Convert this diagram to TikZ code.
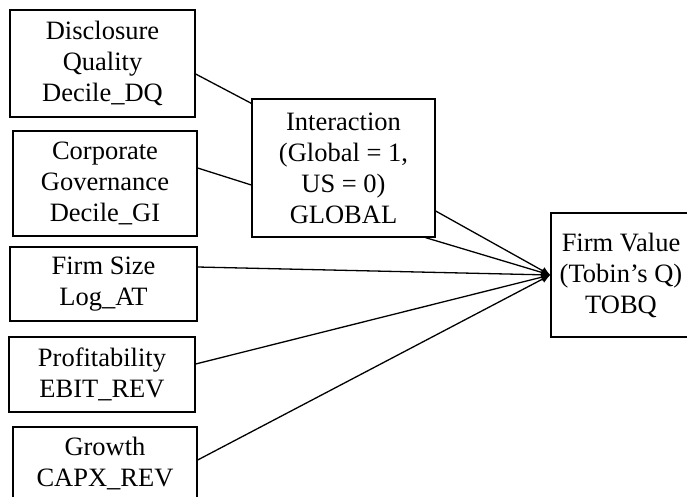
\documentclass[tikz,border=0pt]{standalone}
\usepackage{fontspec}
\setmainfont{Liberation Serif}
\usetikzlibrary{arrows.meta}
\begin{document}
\begin{tikzpicture}[x=1pt,y=-1pt,
  box/.style={draw=black,line width=1.3pt,fill=white,inner sep=0pt,align=center,
    font=\fontsize{26.5}{31}\selectfont},
  link/.style={draw=black,line width=1.3pt},
  arr/.style={link,-{Latex[length=9pt,width=8pt]}}]
\useasboundingbox (0,0) rectangle (687,496);
\clip (0,0) rectangle (687,496);
\fill[white] (0,0) rectangle (687,496);
\node[box,minimum width=185pt,minimum height=107pt] (dq) at (102.5,63.5) {Disclosure\\Quality\\Decile\_DQ};
\node[box,minimum width=184pt,minimum height=105pt] (gi) at (105,183.5) {Corporate\\Governance\\Decile\_GI};
\node[box,minimum width=183pt,minimum height=138pt] (int) at (343.5,168) {Interaction\\(Global = 1,\\US = 0)\\GLOBAL};
\node[box,minimum width=187pt,minimum height=74pt] (fs) at (103.5,284) {Firm Size\\Log\_AT};
\node[box,minimum width=186pt,minimum height=75pt] (pr) at (102,374.5) {Profitability\\EBIT\_REV};
\node[box,minimum width=184pt,minimum height=74pt] (gr) at (105,464) {Growth\\CAPX\_REV};
\node[box,minimum width=140pt,minimum height=124pt] (fv) at (621,275) {Firm Value\\(Tobin’s Q)\\TOBQ};
\draw[link] ([yshift=-10.5pt]dq.east) -- ([yshift=-5pt]int.north west);
\draw[link] ([yshift=15.5pt]gi.east) -- ([yshift=-17pt]int.west);
\draw[arr] ([yshift=-43pt]int.east) -- (fv.west);
\draw[arr] ([xshift=-10pt]int.south east) -- (fv.west);
\draw[arr] ([yshift=17pt]fs.east) -- (fv.west);
\draw[arr] ([yshift=10.5pt]pr.east) -- (fv.west);
\draw[arr] ([yshift=4pt]gr.east) -- (fv.west);
\end{tikzpicture}
\end{document}
